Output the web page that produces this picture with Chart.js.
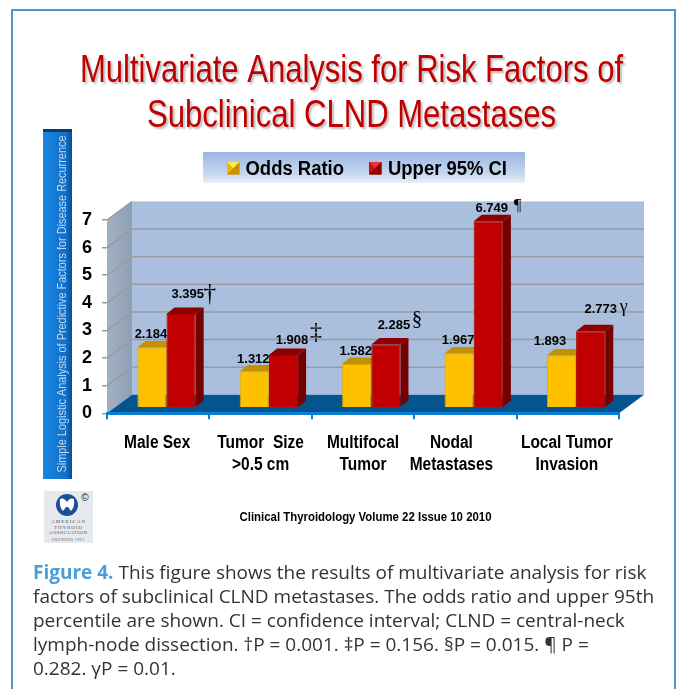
<!DOCTYPE html>
<html>
<head>
<meta charset="utf-8">
<title>Multivariate Analysis for Risk Factors of Subclinical CLND Metastases</title>
<script src="https://cdn.jsdelivr.net/npm/chart.js@4"></script>
<style>
html, body { margin: 0; padding: 0; background: #fff; width: 677px; height: 689px; overflow: hidden; }
#frame { position: absolute; left: 11px; top: 9px; width: 665px; height: 720px; border: 2px solid #4a97cf; box-sizing: border-box; }
#chart { position: absolute; left: 0; top: 0; }
#logo { position: absolute; left: 44px; top: 491px; }
#caption { position: absolute; left: 33px; top: 560px; font: 19px/24px "Open Sans", Lato, sans-serif; color: #333; white-space: nowrap; }
#caption b { color: #4a9fd8; }
</style>
</head>
<body>
<div id="frame"></div>
<canvas id="chart" width="677" height="689"></canvas>
<svg id="logo" width="49" height="52" viewBox="0 0 49 52">
	<rect width="49" height="52" fill="#e6eaee"/>
	<circle cx="23" cy="14" r="11" fill="#1d4f96"/>
	<path d="M16 8 Q20 6 23 11 Q26 6 30 8 Q31 16 27 20 L24 16 L22 16 L19 20 Q15 16 16 8 Z" fill="#fff"/>
	<text x="41" y="10" font-size="10" font-family="Liberation Sans" text-anchor="middle" fill="#222">©</text>
	<g font-family="Liberation Serif" font-size="5" fill="#555" text-anchor="middle">
		<text x="24" y="32" textLength="34">AMERICAN</text>
		<text x="24" y="37.5" textLength="28">THYROID</text>
		<text x="24" y="43" textLength="38">ASSOCIATION</text>
		<text x="24" y="49.5" font-size="3.6" textLength="32">FOUNDED 1923</text>
	</g>
</svg>
<div id="caption"><b>Figure 4.</b> This figure shows the results of multivariate analysis for risk<br>factors of subclinical CLND metastases. The odds ratio and upper 95th<br>percentile are shown. CI = confidence interval; CLND = central-neck<br>lymph-node dissection. †P = 0.001. ‡P = 0.156. §P = 0.015. ¶ P =<br>0.282. γP = 0.01.</div>
<script>
const categories = [['Male Sex'], ['Tumor  Size', '>0.5 cm'], ['Multifocal', 'Tumor'], ['Nodal', 'Metastases'], ['Local Tumor', 'Invasion']];
const oddsRatio = [2.184, 1.312, 1.582, 1.967, 1.893];
const upperCI = [3.395, 1.908, 2.285, 6.749, 2.773];
const upperMarks = ['†', '‡', '§', '¶', 'γ'];
const seriesNames = ['Odds Ratio', 'Upper 95% CI'];
const yAxisTitle = 'Simple Logistic Analysis of Predictive Factors for Disease Recurrence';
const titleLines = ['Multivariate Analysis for Risk Factors of', 'Subclinical CLND Metastases'];
const sourceNote = 'Clinical Thyroidology Volume 22 Issue 10 2010';

// fake 3d: how far the back wall sits from the axes, and the bars from the front
const depthX = 25, depthY = 18.5;
const barShiftX = 8.3, barShiftY = 5.6;
const sideX = 8, sideY = 6.5;

// hand placed label offsets from the top middle of each bar
const oddsNudge = [[-1, -12.5], [-1, -12.5], [-1, -13], [-1, -12.5], [-11.5, -14.5]];
const upperNudge = [[6.6, -20], [8.5, -15], [8, -19], [3.4, -12.5], [10, -22]];
const markNudge = [[22, 0, 26], [24, -7, 24], [23, -6, 21], [26, -3, 17], [23, -2, 18]];
const categoryNudge = [-1, 0, 0, -14, -1];

const SANS = '"Liberation Sans", Arial, sans-serif';
const NARROW = '"Liberation Sans Narrow", "Liberation Sans", Arial, sans-serif';

function polygon(ctx, pts, fill) {
	ctx.beginPath();
	pts.forEach((p, i) => i ? ctx.lineTo(p[0], p[1]) : ctx.moveTo(p[0], p[1]));
	ctx.closePath();
	ctx.fillStyle = fill;
	ctx.fill();
}

function drawRoom(chart) {
	const ctx = chart.ctx, a = chart.chartArea, y = chart.scales.y;
	ctx.save();
	polygon(ctx, [[a.left, a.top], [a.left + depthX, a.top - depthY], [a.right + depthX, a.top - depthY], [a.right + depthX, a.bottom - depthY], [a.left + depthX, a.bottom - depthY], [a.left, a.bottom]], '#a9bfdd');
	const wall = ctx.createLinearGradient(a.left, 0, a.left + depthX, 0);
	wall.addColorStop(0, '#a3b1c4');
	wall.addColorStop(1, '#8f9fb3');
	polygon(ctx, [[a.left, a.top], [a.left + depthX, a.top - depthY], [a.left + depthX, a.bottom - depthY], [a.left, a.bottom]], wall);
	polygon(ctx, [[a.left, a.bottom], [a.left + depthX, a.bottom - depthY], [a.right + depthX, a.bottom - depthY], [a.right, a.bottom]], '#04558f');
	ctx.strokeStyle = '#979ca3';
	ctx.lineWidth = 1.5;
	y.ticks.forEach(t => {
		if (t.value === 0) return;
		const py = y.getPixelForValue(t.value);
		ctx.beginPath();
		ctx.moveTo(a.left, py);
		ctx.lineTo(a.left + depthX, py - depthY);
		if (t.value < 7) ctx.lineTo(a.right + depthX, py - depthY);
		ctx.stroke();
	});
	ctx.strokeStyle = '#d3d9e2';
	ctx.lineWidth = 1;
	ctx.beginPath();
	ctx.moveTo(a.left + depthX, a.top - depthY);
	ctx.lineTo(a.right + depthX, a.top - depthY);
	ctx.stroke();
	ctx.restore();
}

function legendMarker(ctx, x, y, s, c) {
	polygon(ctx, [[x, y], [x + s, y], [x + s, y + s], [x, y + s]], c[0]);
	polygon(ctx, [[x, y], [x + s, y], [x + s / 2, y + s / 2]], c[1]);
	polygon(ctx, [[x + s, y], [x + s, y + s], [x + s / 2, y + s / 2]], c[2]);
	polygon(ctx, [[x, y + s], [x + s, y + s], [x + s / 2, y + s / 2]], c[2]);
}

function drawHeader(chart) {
	const ctx = chart.ctx;
	ctx.save();
	ctx.fillStyle = '#c00000';
	ctx.textAlign = 'center';
	ctx.textBaseline = 'alphabetic';
	ctx.font = '38px ' + SANS;
	ctx.shadowColor = 'rgba(90,90,90,0.4)';
	ctx.shadowOffsetX = 2;
	ctx.shadowOffsetY = 2;
	ctx.shadowBlur = 2;
	ctx.fillText(titleLines[0], 351.5, 82, 543);
	ctx.fillText(titleLines[1], 351.5, 127, 409);
	ctx.restore();

	// legend
	ctx.save();
	const band = ctx.createLinearGradient(0, 152, 0, 184);
	band.addColorStop(0, '#9cb5e0');
	band.addColorStop(0.7, '#c8d8f0');
	band.addColorStop(1, '#eff2f8');
	ctx.fillStyle = band;
	ctx.fillRect(203, 152, 322, 31);
	legendMarker(ctx, 227, 162, 12.5, ['#f5b400', '#ffe94f', '#c98f00']);
	legendMarker(ctx, 369, 162, 12.5, ['#c81018', '#f03038', '#8a0000']);
	ctx.fillStyle = '#000';
	ctx.font = 'bold 20px ' + SANS;
	ctx.textAlign = 'left';
	ctx.fillText(seriesNames[0], 245.5, 175, 98.5);
	ctx.fillText(seriesNames[1], 388, 175, 119);
	ctx.restore();

	// y axis bar
	ctx.save();
	const bar = ctx.createLinearGradient(43, 0, 72, 0);
	bar.addColorStop(0, '#1a86e0');
	bar.addColorStop(0.8, '#0f6fca');
	bar.addColorStop(1, '#0a4f90');
	ctx.fillStyle = bar;
	ctx.fillRect(43, 129, 29, 350);
	ctx.fillStyle = '#0b3d6e';
	ctx.fillRect(43, 129, 29, 3);
	ctx.translate(62, 304);
	ctx.rotate(-Math.PI / 2);
	ctx.fillStyle = '#c4d6ea';
	ctx.font = '13px ' + SANS;
	ctx.textAlign = 'center';
	ctx.textBaseline = 'middle';
	ctx.fillText(yAxisTitle, 0, 0, 337);
	ctx.restore();

	ctx.save();
	ctx.fillStyle = '#000';
	ctx.font = 'bold 12px ' + SANS;
	ctx.textAlign = 'center';
	ctx.textBaseline = 'middle';
	ctx.fillText(sourceNote, 365.5, 518, 252);
	ctx.restore();
}

const room3d = {
	id: 'room3d',
	beforeDraw(chart) {
		drawHeader(chart);
		drawRoom(chart);
	},
	beforeDatasetsDraw(chart) {
		const ctx = chart.ctx;
		ctx.save();
		ctx.translate(barShiftX, -barShiftY);
		// tops and sides first, the library paints the front faces over them
		const faces = [['#c49200', '#b58500'], ['#8e0000', '#750000']];
		[0, 1].forEach(d => {
			chart.getDatasetMeta(d).data.forEach(b => {
				const l = b.x - b.width / 2, r = b.x + b.width / 2;
				polygon(ctx, [[l, b.y], [l + sideX, b.y - sideY], [r + sideX, b.y - sideY], [r, b.y]], faces[d][0]);
				polygon(ctx, [[r, b.y], [r + sideX, b.y - sideY], [r + sideX, b.base - sideY], [r, b.base]], faces[d][1]);
			});
		});
	},
	afterDatasetsDraw(chart) {
		const ctx = chart.ctx;
		ctx.restore();
		ctx.save();
		ctx.fillStyle = '#000';
		ctx.textAlign = 'center';
		ctx.textBaseline = 'middle';
		chart.getDatasetMeta(0).data.forEach((b, i) => {
			ctx.font = 'bold 13px ' + SANS;
			ctx.fillText(oddsRatio[i].toFixed(3), b.x + barShiftX + oddsNudge[i][0], b.y - barShiftY + oddsNudge[i][1]);
		});
		chart.getDatasetMeta(1).data.forEach((b, i) => {
			const lx = b.x + barShiftX + upperNudge[i][0], ly = b.y - barShiftY + upperNudge[i][1];
			ctx.font = 'bold 13px ' + SANS;
			ctx.fillText(upperCI[i].toFixed(3), lx, ly);
			ctx.font = markNudge[i][2] + 'px "Liberation Serif", serif';
			ctx.fillText(upperMarks[i], lx + markNudge[i][0], ly + markNudge[i][1]);
		});
		// category labels, Nodal Metastases sits off its tick in the original
		const x = chart.scales.x;
		ctx.font = 'bold 18px ' + SANS;
		categories.forEach((lines, i) => {
			lines.forEach((line, j) => {
				const w = ctx.measureText(line).width * 0.86;
				ctx.fillText(line, x.getPixelForTick(i) + categoryNudge[i], x.top + 30 + j * 22, w);
			});
		});
		ctx.restore();
	}
};

new Chart(document.getElementById('chart'), {
	type: 'bar',
	data: {
		labels: categories,
		datasets: [
			{ label: seriesNames[0], data: oddsRatio, backgroundColor: '#ffc000', borderColor: '#e3a900', borderWidth: 1, clip: false },
			{ label: seriesNames[1], data: upperCI, backgroundColor: '#c00000', borderColor: '#a80000', borderWidth: 1, clip: false }
		]
	},
	options: {
		responsive: false,
		animation: false,
		categoryPercentage: 0.57,
		barPercentage: 1,
		layout: { padding: { left: 67, right: 58, top: 220, bottom: 245.7 } },
		plugins: { legend: { display: false }, title: { display: false }, tooltip: { enabled: false } },
		scales: {
			x: {
				afterFit(scale) { scale.height = 30; },
				border: { display: true, color: '#0a7fd6', width: 3 },
				grid: { offset: true, drawOnChartArea: false, drawTicks: true, tickLength: 6, color: '#0a7fd6', lineWidth: 2 },
				ticks: { display: false }
			},
			y: {
				min: 0,
				max: 7,
				afterFit(scale) { scale.width = 40; },
				border: { display: false },
				grid: { drawOnChartArea: false, tickLength: 5, color: '#979ca3', lineWidth: 1.5 },
				ticks: { stepSize: 1, padding: 10, color: '#000', font: { family: NARROW, size: 18, weight: 'bold' } }
			}
		}
	},
	plugins: [room3d]
});
</script>
</body>
</html>
